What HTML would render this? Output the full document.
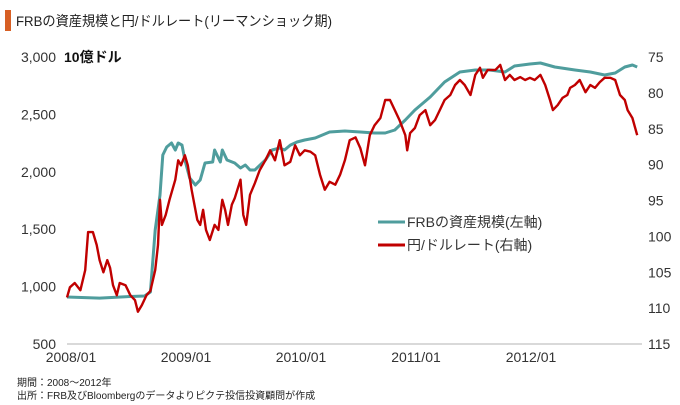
<!DOCTYPE html>
<html><head><meta charset="utf-8">
<style>
body{margin:0;background:#fff;}
svg{display:block;font-family:"Liberation Sans","Noto Sans CJK JP",sans-serif;}
</style></head>
<body>
<svg id="chart" width="680" height="405" viewBox="0 0 680 405">
  <rect x="5" y="10" width="6" height="21" fill="#d75f24"/>
  <text x="16" y="26" font-size="14" fill="#222" textLength="316" lengthAdjust="spacingAndGlyphs">FRBの資産規模と円/ドルレート(リーマンショック期)</text>
  <text x="64" y="62" font-size="14" font-weight="bold" fill="#111">10億ドル</text>
  <line x1="67" y1="344" x2="642" y2="344" stroke="#d9d9d9" stroke-width="2"/>
  <g id="leftTicks"></g>
  <g id="rightTicks"></g>
  <g id="xTicks"></g>
  <g id="series"></g>
  <g>
    <g>
      <line x1="378" y1="222" x2="405" y2="222" stroke="#4f9d9d" stroke-width="3"/>
      <text x="407" y="227" font-size="14" fill="#333">FRBの資産規模(左軸)</text>
    </g>
    <g>
      <line x1="378" y1="245" x2="405" y2="245" stroke="#c00000" stroke-width="3"/>
      <text x="407" y="250" font-size="14" fill="#333">円/ドルレート(右軸)</text>
    </g>
  </g>
  <text x="17" y="386" font-size="10" fill="#222">期間：2008～2012年</text>
  <text x="17" y="399" font-size="10" fill="#222">出所：FRB及びBloombergのデータよりピクテ投信投資顧問が作成</text>
</svg>
<script>
const leftTickValues=[500,1000,1500,2000,2500,3000];
const leftTickLabels=["500","1,000","1,500","2,000","2,500","3,000"];
const rightTickValues=[75,80,85,90,95,100,105,110,115];
const xTickMonths=[0,12,24,36,48];
const xTickLabels=["2008/01","2009/01","2010/01","2011/01","2012/01"];
const frbMonths=[0,3.4,6.1,8.1,8.7,9.2,9.7,10.0,10.4,10.9,11.3,11.6,12.0,12.3,12.8,13.4,13.9,14.4,15.2,15.4,16.0,16.2,16.7,17.5,18.1,18.6,19.1,19.6,20.7,21.4,22.2,22.7,23.3,24.0,24.8,25.9,27.4,29.0,30.6,32.1,33.2,34.2,35.3,36.3,37.9,39.4,41.0,42.6,44.1,45.7,46.7,48.3,49.4,50.9,53.0,54.6,56.1,57.2,58.2,59.0,59.5];
const frbValues=[909,900,912,918,953,1493,1798,2146,2216,2251,2190,2251,2233,2103,1946,1885,1929,2077,2085,2190,2085,2190,2103,2077,2033,2059,2016,2016,2103,2190,2207,2190,2233,2260,2277,2294,2347,2355,2347,2338,2338,2364,2451,2538,2652,2782,2869,2887,2887,2869,2922,2939,2948,2913,2887,2869,2843,2861,2913,2930,2913];
const yenMonths=[0,0.3,0.8,1.4,1.9,2.2,2.7,3.1,3.4,3.8,4.2,4.5,4.8,5.2,5.5,6.1,6.6,7.1,7.4,7.8,8.3,8.7,9.2,9.5,9.7,9.9,10.3,10.7,11.3,11.6,11.9,12.3,12.6,13.0,13.6,13.9,14.2,14.5,14.9,15.4,15.8,16.2,16.5,16.8,17.2,17.5,18.1,18.4,18.7,19.1,19.6,20.1,20.7,21.2,21.7,22.2,22.7,23.3,23.8,24.3,24.8,25.4,25.9,26.4,26.9,27.4,28.0,28.5,29.0,29.5,30.1,30.6,31.1,31.6,32.1,32.7,33.2,33.7,34.2,34.7,35.3,35.5,35.8,36.3,36.8,37.4,37.9,38.4,38.9,39.4,40.0,40.5,41.0,41.5,42.1,42.6,43.1,43.4,43.9,44.7,45.2,45.7,46.2,46.7,47.3,47.8,48.3,48.8,49.4,49.9,50.4,50.7,51.2,51.7,52.2,52.5,53.0,53.5,54.1,54.6,55.1,55.6,56.1,56.7,57.2,57.7,58.2,58.5,59.0,59.5];
const yenValues=[108.5,107.1,106.5,107.5,104.7,99.4,99.4,101.2,103.3,105.0,103.3,104.4,106.8,108.2,106.5,106.8,108.2,108.9,110.5,109.6,108.2,107.6,104.7,101.2,94.9,98.4,97.0,94.9,92.1,89.4,90.1,88.7,90.1,93.5,97.7,98.4,96.3,99.1,100.5,98.4,99.1,94.9,96.3,98.4,95.6,94.7,92.1,97.0,98.4,94.2,92.6,90.8,89.4,88.0,89.4,86.6,90.1,89.6,87.3,88.7,88.0,88.2,88.7,91.4,93.5,92.4,92.8,91.4,89.4,86.6,86.2,87.7,90.1,85.9,84.5,83.5,81.0,81.0,82.4,83.8,85.9,88.0,85.6,84.9,83.1,82.4,84.5,83.8,82.4,81.0,80.3,78.9,78.2,78.9,80.3,77.5,76.5,77.9,76.8,76.8,76.1,78.2,77.5,78.2,77.8,78.2,77.9,78.2,77.5,78.9,81.0,82.4,81.7,80.7,80.3,79.3,78.9,78.2,79.9,78.9,79.3,78.5,77.9,77.9,78.2,80.3,81.0,82.4,83.5,85.9];

const NS="http://www.w3.org/2000/svg";
const X=m=>67+m*115/12;
const YL=v=>344-(v-500)/2500*287;
const YR=v=>57+(v-75)/40*287;
function mk(tag,attrs,parent){const e=document.createElementNS(NS,tag);for(const k in attrs)e.setAttribute(k,attrs[k]);parent.appendChild(e);return e;}
const lt=document.getElementById('leftTicks');
leftTickValues.forEach((v,i)=>{
  const t=mk('text',{x:56,y:YL(v)+5,'text-anchor':'end','font-size':14,fill:'#333'},lt);
  t.textContent=leftTickLabels[i];
  
  
});
const rt=document.getElementById('rightTicks');
rightTickValues.forEach(v=>{
  const t=mk('text',{x:648,y:YR(v)+5,'font-size':14,fill:'#333'},rt);
  t.textContent=String(v);
  
  
});
const xt=document.getElementById('xTicks');
xTickMonths.forEach((m,i)=>{
  const t=mk('text',{x:X(m)+4,y:362,'text-anchor':'middle','font-size':14,fill:'#333'},xt);
  t.textContent=xTickLabels[i];
  
  
});
const sg=document.getElementById('series');
const frbPts=frbMonths.map((m,i)=>X(m).toFixed(1)+','+YL(frbValues[i]).toFixed(1)).join(' ');
const frb=mk('polyline',{points:frbPts,fill:'none',stroke:'#4f9d9d','stroke-width':3,'stroke-linejoin':'round'},sg);


const yenPts=yenMonths.map((m,i)=>X(m).toFixed(1)+','+YR(yenValues[i]).toFixed(1)).join(' ');
const yen=mk('polyline',{points:yenPts,fill:'none',stroke:'#c00000','stroke-width':2.4,'stroke-linejoin':'round'},sg);


</script>
</body></html>
